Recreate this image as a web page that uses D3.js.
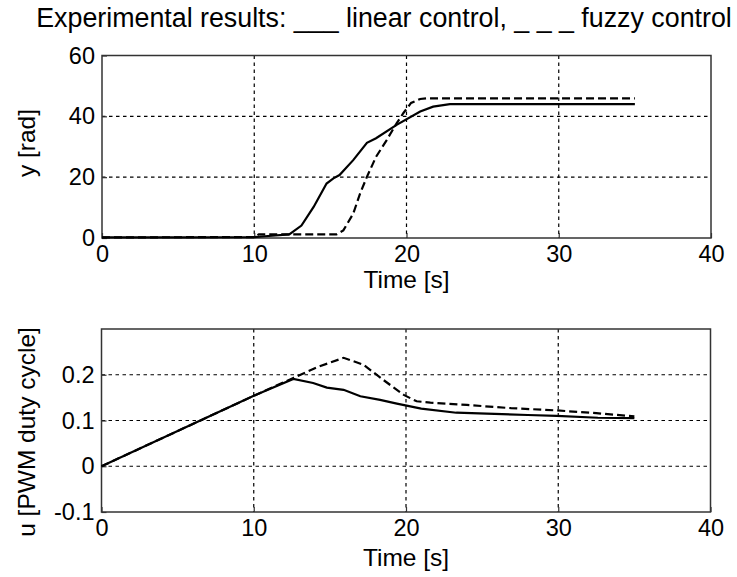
<!DOCTYPE html>
<html>
<head>
<meta charset="utf-8">
<script src="https://cdn.jsdelivr.net/npm/d3@7/dist/d3.min.js"></script>
<style>
  html, body { margin: 0; padding: 0; background: #fff; }
  svg { display: block; font-family: Arial, "Liberation Sans", sans-serif; }
</style>
</head>
<body>
<svg id="chart" width="737" height="577"></svg>
<script>
// Angle response y [rad]
const posTimeLinear = [0, 5, 10, 10.5, 12.3, 13.1, 13.9, 14.75, 15.2, 15.6, 16.5, 17.4, 18.0, 19.35, 20.9, 21.75, 22.85, 35];
const posLinear     = [0.2, 0.2, 0.3, 0.5, 1.2, 4.1, 10.2, 17.9, 19.6, 20.7, 25.6, 31.3, 32.8, 37.2, 41.6, 43.2, 44.0, 44.0];
const posTimeFuzzy  = [0, 10, 10.3, 15.4, 15.85, 16.5, 16.95, 17.4, 18.0, 18.7, 19.35, 19.8, 20.3, 20.9, 21.3, 35];
const posFuzzy      = [0.2, 0.3, 1.2, 1.2, 2.5, 8, 14.6, 20.1, 26.7, 32.2, 37.7, 41.1, 44.4, 45.7, 45.9, 45.9];

// Control signal u [PWM duty cycle]
const ctlTimeLinear = [0, 5, 10, 12.6, 13.9, 14.8, 15.9, 17.0, 18.3, 19.4, 21.0, 23.3, 25.3, 28, 29.9, 32.6, 35];
const ctlLinear     = [0, 0.077, 0.154, 0.191, 0.182, 0.172, 0.167, 0.153, 0.145, 0.137, 0.126, 0.117, 0.115, 0.112, 0.110, 0.106, 0.105];
const ctlTimeFuzzy  = [0, 5, 10, 12.6, 14.2, 15.9, 17.2, 18.5, 19.85, 20.7, 21.6, 24, 26.9, 29.9, 32.5, 35];
const ctlFuzzy      = [0, 0.077, 0.154, 0.193, 0.217, 0.237, 0.222, 0.189, 0.156, 0.142, 0.139, 0.134, 0.127, 0.122, 0.116, 0.109];

const timeTicks = [0, 10, 20, 30, 40];
const posTicks  = [0, 20, 40, 60];
const ctlTicks  = [-0.1, 0, 0.1, 0.2];

const titleText = "Experimental results: ___ linear control, _ _ _ fuzzy control";

const FONT = "Arial, 'Liberation Sans', sans-serif";
const svg = d3.select("#chart");

svg.append("text")
  .attr("x", 384).attr("y", 27)
  .attr("text-anchor", "middle")
  .attr("font-size", 26.8)
  .attr("fill", "#000")
  .text(titleText);

function panel(cfg) {
  const x = d3.scaleLinear().domain([0, 40]).range([cfg.left, cfg.right]);
  const y = d3.scaleLinear().domain(cfg.yDomain).range([cfg.bottom, cfg.top]);
  const g = svg.append("g");

  // dotted grid
  g.append("g").selectAll("line")
    .data(timeTicks.filter(d => d > 0 && d < 40))
    .join("line")
    .attr("x1", d => x(d)).attr("x2", d => x(d))
    .attr("y1", cfg.top).attr("y2", cfg.bottom)
    .attr("stroke", "#000").attr("stroke-width", 1.2)
    .attr("stroke-dasharray", "3.5,3.5");
  g.append("g").selectAll("line")
    .data(cfg.yTicks.filter(d => d > cfg.yDomain[0] && d < cfg.yDomain[1]))
    .join("line")
    .attr("x1", cfg.left).attr("x2", cfg.right)
    .attr("y1", d => y(d)).attr("y2", d => y(d))
    .attr("stroke", "#000").attr("stroke-width", 1.2)
    .attr("stroke-dasharray", "3.5,3.5");

  // axes with inward ticks
  const xAxis = g.append("g")
    .attr("transform", `translate(0,${cfg.bottom})`)
    .call(d3.axisBottom(x).tickValues(timeTicks).tickSize(-5).tickPadding(7).tickFormat(d3.format("d")));
  const yAxis = g.append("g")
    .attr("transform", `translate(${cfg.left},0)`)
    .call(d3.axisLeft(y).tickValues(cfg.yTicks).tickSize(-5).tickPadding(7).tickFormat(cfg.fmt));
  [xAxis, yAxis].forEach(a => {
    a.select(".domain").remove();
    a.selectAll(".tick line").attr("stroke", "#333").attr("stroke-width", 1.2);
    a.selectAll(".tick text").attr("font-size", 23.5).attr("fill", "#000")
      .attr("font-family", FONT);
  });
  xAxis.selectAll(".tick text").attr("dy", "0.71em");

  // frame
  g.append("rect")
    .attr("x", cfg.left).attr("y", cfg.top)
    .attr("width", cfg.right - cfg.left).attr("height", cfg.bottom - cfg.top)
    .attr("fill", "none").attr("stroke", "#333").attr("stroke-width", 1.5);

  const line = d3.line().x(d => x(d[0])).y(d => y(d[1]));
  g.append("path")
    .datum(d3.zip(cfg.tFuzzy, cfg.vFuzzy))
    .attr("d", line)
    .attr("fill", "none").attr("stroke", "#000").attr("stroke-width", 2.2)
    .attr("stroke-dasharray", "8,4");
  g.append("path")
    .datum(d3.zip(cfg.tLinear, cfg.vLinear))
    .attr("d", line)
    .attr("fill", "none").attr("stroke", "#000").attr("stroke-width", 2.2);

  // axis titles
  g.append("text")
    .attr("x", (cfg.left + cfg.right) / 2).attr("y", cfg.bottom + cfg.xLabelOffset)
    .attr("text-anchor", "middle").attr("font-size", 24.5).attr("fill", "#000")
    .text("Time [s]");
  g.append("text")
    .attr("transform", `translate(${cfg.yLabelX},${cfg.yLabelY}) rotate(-90)`)
    .attr("text-anchor", "middle").attr("font-size", 24.5).attr("fill", "#000")
    .text(cfg.yLabel);
}

panel({
  left: 102, right: 711, top: 55.5, bottom: 238,
  yDomain: [0, 60], yTicks: posTicks, fmt: d3.format("d"),
  tLinear: posTimeLinear, vLinear: posLinear, tFuzzy: posTimeFuzzy, vFuzzy: posFuzzy,
  yLabel: "y [rad]", yLabelX: 35, yLabelY: 143, xLabelOffset: 50
});

panel({
  left: 101.5, right: 710.5, top: 329, bottom: 512,
  yDomain: [-0.1, 0.3], yTicks: ctlTicks, fmt: d => d === 0 ? "0" : String(d),
  tLinear: ctlTimeLinear, vLinear: ctlLinear, tFuzzy: ctlTimeFuzzy, vFuzzy: ctlFuzzy,
  yLabel: "u [PWM duty cycle]", yLabelX: 35, yLabelY: 432, xLabelOffset: 54
});
</script>
</body>
</html>
